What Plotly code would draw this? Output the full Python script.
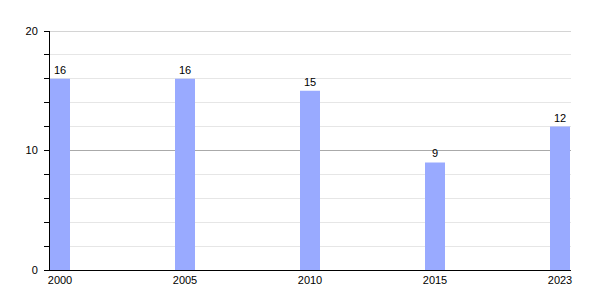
import plotly.graph_objects as go

years = ["2000", "2005", "2010", "2015", "2023"]
values = [16, 16, 15, 9, 12]
y_max = 20

fig = go.Figure()
fig.add_trace(go.Bar(
    x=list(range(len(years))), y=values,
    width=0.16,
    marker=dict(color="#99AAFF", line=dict(width=0)),
    text=[str(v) for v in values], textposition="outside",
    textfont=dict(family="Liberation Sans, Arial", size=11, color="#000000"),
    cliponaxis=False,
))

# top gridline at the range edge (plotly drops grid lines at range ends)
fig.add_shape(type="line", xref="paper", x0=0, x1=1, yref="y", y0=y_max, y1=y_max,
              line=dict(color="#aaaaaa", width=1), layer="below")

fig.update_layout(
    template="none",
    width=600, height=300,
    margin=dict(l=50, r=29, t=31, b=30),
    paper_bgcolor="white", plot_bgcolor="white",
    showlegend=False,
    font=dict(family="Liberation Sans, Arial", size=11, color="#000000"),
    xaxis=dict(
        range=[-0.08, 4.088],
        tickmode="array", tickvals=list(range(len(years))), ticktext=years,
        showgrid=False, zeroline=False,
        showline=True, linecolor="black", linewidth=1,
        ticks="", ticklen=0,
        tickfont=dict(size=11, color="#000000"),
    ),
    yaxis=dict(
        range=[0, y_max],
        tickmode="array", tickvals=[0, 10, 20],
        showgrid=True, gridcolor="#aaaaaa", gridwidth=1,
        zeroline=False,
        showline=True, linecolor="black", linewidth=1,
        ticks="outside", ticklen=5, tickcolor="black",
        ticklabelstandoff=4,
        tickfont=dict(size=11, color="#000000"),
        minor=dict(tickvals=[2, 4, 6, 8, 12, 14, 16, 18], ticks="outside", ticklen=5,
                   tickcolor="black", showgrid=True, gridcolor="#e6e6e6", gridwidth=1),
    ),
)

fig.write_html("out.html")
